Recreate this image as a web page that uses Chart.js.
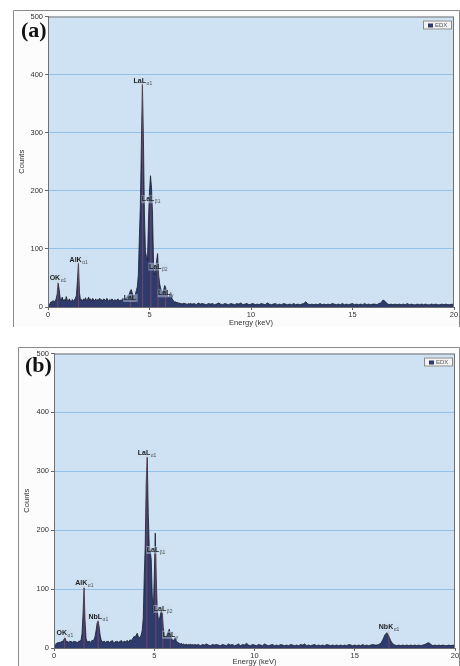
<!DOCTYPE html>
<html>
<head>
<meta charset="utf-8">
<script src="https://cdn.jsdelivr.net/npm/chart.js@4.4.1/dist/chart.umd.min.js"></script>
<style>
body{margin:0;background:#fff;width:460px;height:666px;overflow:hidden;position:relative;font-family:"Liberation Sans",Arial,sans-serif}
canvas{position:absolute}
#ca{left:13px;top:10px}
#cb{left:18px;top:347px}
.tag{position:absolute;font:bold 22px "Liberation Serif","Times New Roman",serif;color:#111;line-height:1}
</style>
</head>
<body>
<canvas id="ca" width="447" height="317"></canvas>
<canvas id="cb" width="442" height="319"></canvas>
<div class="tag" style="left:21px;top:19px">(a)</div>
<div class="tag" style="left:25px;top:354px">(b)</div>
<script>
// channel calibration: 0-7 keV at 0.05 keV, 7.1-20 keV at 0.1 keV
const LOW_STEP = 0.05
const HIGH_START = 7.1
const HIGH_STEP = 0.1

// panel (a) counts
const countsLowA = [
  0, 2, 6, 9, 8, 11, 9, 10, 14, 22,
  41, 30, 15, 12, 17, 11, 13, 10, 18, 12,
  10, 14, 11, 9, 13, 10, 12, 15, 20, 45,
  76, 25, 12, 13, 10, 14, 12, 16, 11, 13,
  17, 12, 14, 10, 15, 12, 11, 14, 10, 13,
  12, 15, 11, 13, 10, 14, 12, 11, 15, 12,
  10, 13, 11, 14, 12, 10, 13, 11, 12, 14,
  10, 12, 11, 13, 15, 12, 14, 16, 18, 20,
  22, 27, 30, 24, 20, 18, 22, 28, 35, 55,
  120, 175, 280, 384, 290, 160, 95, 87, 80, 150,
  200, 226, 205, 160, 75, 55, 62, 80, 92, 55,
  40, 32, 27, 26, 30, 37, 33, 22, 18, 16,
  22, 25, 15, 12, 10, 8, 9, 7, 8, 6,
  7, 5, 6, 5, 7, 5, 6, 4, 6, 5,
  6
]
const countsHighA = [
  5, 6, 4, 7, 5, 6, 5, 4, 6, 5,
  6, 4, 5, 7, 5, 4, 6, 5, 4, 6,
  5, 4, 6, 5, 7, 4, 5, 6, 4, 5,
  6, 4, 5, 4, 6, 5, 4, 7, 5, 4,
  5, 6, 4, 5, 4, 6, 5, 4, 5, 4,
  6, 4, 5, 4, 5, 6, 9, 5, 4, 5,
  4, 5, 4, 6, 4, 5, 4, 5, 4, 6,
  5, 4, 5, 4, 6, 4, 5, 4, 5, 6,
  4, 5, 4, 5, 4, 6, 4, 5, 4, 5,
  5, 4, 6, 7, 12, 10, 6, 4, 5, 4,
  5, 4, 5, 4, 5, 4, 6, 4, 5, 4,
  4, 5, 4, 5, 4, 5, 4, 4, 5, 4,
  5, 4, 4, 5, 4, 5, 4, 4, 5, 3
]

// panel (b) counts
const countsLowB = [
  0, 3, 7, 9, 8, 10, 9, 11, 10, 12,
  15, 17, 12, 10, 11, 9, 12, 10, 11, 9,
  12, 10, 11, 9, 10, 12, 11, 14, 25, 60,
  102, 45, 16, 11, 10, 12, 9, 11, 13, 12,
  15, 20, 30, 42, 46, 36, 22, 14, 11, 10,
  12, 9, 11, 10, 12, 9, 11, 10, 13, 10,
  9, 11, 10, 12, 9, 11, 10, 13, 11, 9,
  12, 10, 11, 13, 10, 12, 14, 12, 15, 17,
  20, 18, 22, 25, 20, 17, 19, 22, 30, 50,
  120, 175, 280, 324, 230, 172, 165, 150, 90, 60,
  120, 195, 120, 65, 50, 48, 55, 64, 58, 35,
  22, 18, 20, 24, 28, 32, 25, 18, 14, 12,
  15, 18, 12, 10, 9, 8, 7, 8, 6, 7,
  6, 5, 7, 5, 6, 5, 7, 5, 6, 5,
  6
]
const countsHighB = [
  5, 6, 4, 6, 5, 7, 5, 4, 6, 5,
  6, 5, 4, 6, 5, 4, 7, 5, 6, 4,
  5, 7, 4, 6, 5, 8, 5, 4, 6, 5,
  4, 6, 5, 4, 7, 5, 4, 5, 6, 4,
  5, 4, 6, 5, 4, 5, 4, 6, 5, 4,
  5, 4, 6, 5, 7, 4, 5, 4, 5, 6,
  4, 5, 4, 5, 4, 6, 5, 4, 5, 4,
  5, 4, 5, 4, 5, 4, 6, 5, 4, 5,
  4, 5, 4, 6, 4, 5, 4, 5, 6, 5,
  5, 6, 8, 14, 22, 26, 20, 12, 7, 5,
  4, 5, 4, 5, 4, 5, 4, 5, 4, 5,
  4, 5, 4, 5, 6, 8, 9, 6, 4, 5,
  4, 5, 4, 5, 4, 4, 5, 4, 5, 4
]

// peak labels: element + line, subscript, energy (keV), label height (counts)
const peakNamesA = ['OK', 'AlK', 'LaL', 'LaL', 'LaL', 'LaL', 'LaL']
const peakSubsA = ['α1', 'α1', 'l', 'α1', 'β1', 'β2', 'γ']
const peakEnergyA = [0.48, 1.5, 4.06, 4.66, 5.07, 5.42, 5.79]
const peakLabelYA = [46, 78, 12, 385, 182, 66, 20]

const peakNamesB = ['OK', 'AlK', 'NbL', 'LaL', 'LaL', 'LaL', 'LaL', 'NbK']
const peakSubsB = ['α1', 'α1', 'α1', 'α1', 'β1', 'β2', 'γ', 'α1']
const peakEnergyB = [0.53, 1.5, 2.2, 4.63, 5.08, 5.43, 5.8, 16.7]
const peakLabelYB = [22, 107, 49, 327, 163, 63, 19, 32]

function spectrum(low, high) {
	const pts = low.map((c, i) => ({ x: +(i * LOW_STEP).toFixed(2), y: c }))
	high.forEach((c, i) => pts.push({ x: +(HIGH_START + i * HIGH_STEP).toFixed(2), y: c }))
	return pts
}

const panelLook = {
	id: 'panelLook',
	beforeDraw(chart, args, opts) {
		const { ctx, chartArea: a, width, height } = chart
		ctx.save()
		ctx.fillStyle = '#fcfcfc'
		ctx.fillRect(0, 0, width, height)
		ctx.strokeStyle = '#8a8a8a'
		ctx.lineWidth = 1
		ctx.beginPath()
		ctx.moveTo(0.5, height)
		ctx.lineTo(0.5, 0.5)
		ctx.lineTo(width - 0.5, 0.5)
		ctx.lineTo(width - 0.5, height)
		ctx.stroke()
		ctx.fillStyle = '#cfe2f3'
		ctx.fillRect(a.left, a.top, a.right - a.left, a.bottom - a.top)
		ctx.restore()
	},
	afterDatasetsDraw(chart, args, opts) {
		const { ctx, scales: { x, y } } = chart
		ctx.save()
		// faint red line markers
		ctx.strokeStyle = 'rgba(225,95,95,0.55)'
		ctx.lineWidth = 0.7
		opts.energy.forEach((e, i) => {
			const px = x.getPixelForValue(e)
			ctx.beginPath()
			ctx.moveTo(px, y.getPixelForValue(0))
			ctx.lineTo(px, y.getPixelForValue(opts.labelY[i]) + 1)
			ctx.stroke()
		})
		// labels
		opts.names.forEach((n, i) => {
			ctx.font = 'bold 7px "Liberation Sans", Arial'
			const w1 = ctx.measureText(n).width
			ctx.font = '5px "Liberation Sans", Arial'
			const w2 = ctx.measureText(opts.subs[i]).width
			const cx = x.getPixelForValue(opts.energy[i])
			const by = y.getPixelForValue(opts.labelY[i])
			const left = cx - (w1 + w2) / 2
			ctx.fillStyle = 'rgba(200,220,240,0.45)'
			ctx.fillRect(left - 0.5, by - 6, w1 + w2 + 1, 8)
			ctx.fillStyle = '#1e1e1e'
			ctx.textBaseline = 'alphabetic'
			ctx.textAlign = 'left'
			ctx.font = 'bold 7px "Liberation Sans", Arial'
			ctx.fillText(n, left, by)
			ctx.fillStyle = '#555'
			ctx.font = '5px "Liberation Sans", Arial'
			ctx.fillText(opts.subs[i], left + w1 + 0.5, by + 2)
		})
		ctx.restore()
	},
	afterDraw(chart) {
		const { ctx, chartArea: a } = chart
		ctx.save()
		ctx.strokeStyle = '#707070'
		ctx.lineWidth = 1
		ctx.strokeRect(a.left + 0.5, a.top + 0.5, a.right - a.left - 1, a.bottom - a.top)
		// legend box
		const lx = a.right - 31, ly = a.top + 4
		ctx.fillStyle = '#f3f3f3'
		ctx.fillRect(lx, ly, 29, 9)
		ctx.strokeStyle = '#8a8a8a'
		ctx.strokeRect(lx + 0.5, ly + 0.5, 28, 8)
		ctx.fillStyle = '#2e3a6e'
		ctx.fillRect(lx + 5, ly + 3, 5, 4)
		ctx.fillStyle = '#555'
		ctx.font = '6px "Liberation Sans", Arial'
		ctx.textBaseline = 'middle'
		ctx.fillText('EDX', lx + 12, ly + 5)
		ctx.restore()
	}
}

function makeChart(id, points, names, subs, energy, labelY, yWidth, xHeight, padTop, padRight) {
	return new Chart(document.getElementById(id), {
		type: 'line',
		data: {
			datasets: [
				{
					label: 'EDX',
					data: points,
					fill: 'origin',
					backgroundColor: '#2f3b6c',
					borderColor: '#1b1d2c',
					borderWidth: 0.8,
					pointRadius: 0,
					tension: 0
				}
			]
		},
		options: {
			responsive: false,
			animation: false,
			layout: { padding: { top: padTop, right: padRight, left: 0, bottom: 0 } },
			plugins: {
				legend: { display: false },
				tooltip: { enabled: false },
				panelLook: { names, subs, energy, labelY }
			},
			scales: {
				x: {
					type: 'linear', min: 0, max: 20,
					ticks: { stepSize: 5, font: { size: 7.5 }, color: '#333', padding: 0, maxRotation: 0 },
					grid: { drawOnChartArea: false, tickLength: 3, tickColor: '#666' },
					border: { color: '#6a6a6a' },
					title: { display: true, text: 'Energy (keV)', font: { size: 7.5 }, color: '#333', padding: 0 },
					afterFit(s) { s.height = xHeight }
				},
				y: {
					min: 0, max: 500,
					ticks: { stepSize: 100, font: { size: 7.5 }, color: '#333', padding: 2 },
					grid: {
						color: c => (c.tick.value === 0 || c.tick.value === 500) ? 'rgba(0,0,0,0)' : '#93c1e8',
						tickColor: '#666', tickLength: 3
					},
					border: { color: '#6a6a6a' },
					title: { display: true, text: 'Counts', font: { size: 7.5 }, color: '#333', padding: { top: 4, bottom: 0 } },
					afterFit(s) { s.width = yWidth }
				}
			}
		},
		plugins: [panelLook]
	})
}

makeChart('ca', spectrum(countsLowA, countsHighA), peakNamesA, peakSubsA, peakEnergyA, peakLabelYA, 35, 20, 5, 6)
makeChart('cb', spectrum(countsLowB, countsHighB), peakNamesB, peakSubsB, peakEnergyB, peakLabelYB, 36, 18, 6, 5)
</script>
</body>
</html>
